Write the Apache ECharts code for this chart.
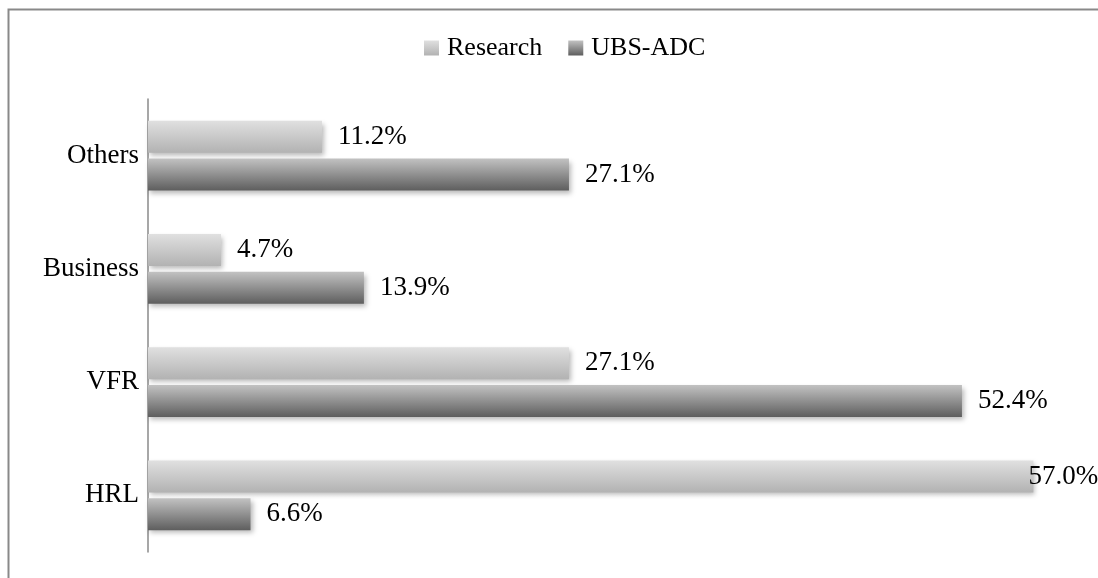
<!DOCTYPE html>
<html>
<head>
<meta charset="utf-8">
<script src="https://cdn.jsdelivr.net/npm/echarts@6/dist/echarts.min.js"></script>
<style>
  html, body { margin: 0; padding: 0; background: #fff; }
  #chart { width: 1098px; height: 578px; }
</style>
</head>
<body>
<div id="chart"></div>
<script>
// data
const categories = ["Others", "Business", "VFR", "HRL"];
const seriesNames = ["Research", "UBS-ADC"];
const researchValues = [11.2, 4.7, 27.1, 57.0];
const ubsValues = [27.1, 13.9, 52.4, 6.6];

const FONT = "Liberation Serif";

const chart = echarts.init(document.getElementById("chart"), null, { renderer: "canvas" });

function grad(top, bottom) {
  return new echarts.graphic.LinearGradient(0, 0, 0, 1, [
    { offset: 0, color: top },
    { offset: 1, color: bottom },
  ]);
}

const barShadow = {
  shadowBlur: 5,
  shadowOffsetX: 2,
  shadowOffsetY: 3,
  shadowColor: "rgba(0,0,0,0.28)",
};

const labelStyle = {
  show: true,
  position: "right",
  distance: 16,
  color: "#000",
  fontFamily: FONT,
  fontSize: 27,
  formatter: (p) => p.value.toFixed(1) + "%",
};

// the biggest label sits over the bar end, as in the picture
const researchData = researchValues.map((v) =>
  v > 50 ? { value: v, label: { distance: -5 } } : v
);

const option = {
  animation: false,
  backgroundColor: "#fff",
  graphic: [
    {
      type: "rect",
      left: 6,
      top: 7,
      shape: { width: 1200, height: 700 },
      style: { fill: "none", stroke: "#898989", lineWidth: 2 },
      silent: true,
    },
  ],
  legend: {
    data: seriesNames,
    icon: "rect",
    left: 424,
    top: 35,
    padding: 0,
    itemWidth: 15,
    itemHeight: 15,
    itemGap: 26,
    itemStyle: { shadowBlur: 0, shadowOffsetX: 0, shadowOffsetY: 0 },
    textStyle: { fontFamily: FONT, fontSize: 26, color: "#000", padding: [0, 0, 0, 3] },
  },
  grid: { left: 148, right: 18, top: 99, bottom: 26, containLabel: false },
  xAxis: {
    type: "value",
    min: 0,
    max: 60,
    show: false,
  },
  yAxis: {
    type: "category",
    data: categories,
    inverse: true,
    axisLine: { show: true, lineStyle: { color: "#8a8a8a", width: 1.5 } },
    axisTick: { show: false },
    axisLabel: { color: "#000", fontFamily: FONT, fontSize: 27, margin: 9 },
  },
  series: [
    {
      name: seriesNames[0],
      type: "bar",
      data: researchData,
      barWidth: 32,
      barGap: "18%",
      itemStyle: Object.assign({ color: grad("#e0e0e0", "#b2b2b2") }, barShadow),
      label: labelStyle,
    },
    {
      name: seriesNames[1],
      type: "bar",
      data: ubsValues,
      barWidth: 32,
      barGap: "18%",
      itemStyle: Object.assign({ color: grad("#c2c2c2", "#5e5e5e") }, barShadow),
      label: labelStyle,
    },
  ],
};

chart.setOption(option);
</script>
</body>
</html>
